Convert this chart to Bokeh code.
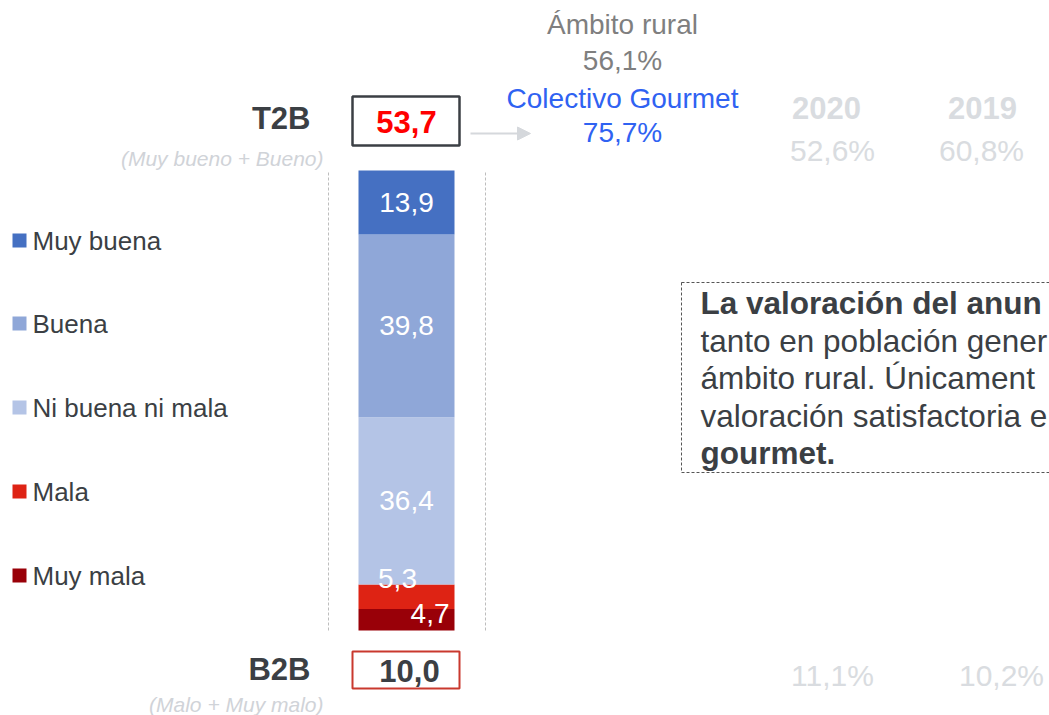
from bokeh.plotting import figure
from bokeh.models import Range1d, Arrow, NormalHead, ColumnDataSource
from bokeh.core.properties import value
from bokeh.embed import file_html
from bokeh.resources import INLINE

# ---------------- data ----------------
categories = ["Muy mala", "Mala", "Ni buena ni mala", "Buena", "Muy buena"]
values = [4.7, 5.3, 36.4, 39.8, 13.9]
labels = ["4,7", "5,3", "36,4", "39,8", "13,9"]
colors = ["#990008", "#DE2314", "#B4C4E6", "#8FA7D8", "#4570C2"]
legend_order = ["Muy buena", "Buena", "Ni buena ni mala", "Mala", "Muy mala"]
t2b_value = "53,7"
b2b_value = "10,0"
rural_label, rural_value = "Ámbito rural", "56,1%"
gourmet_label, gourmet_value = "Colectivo Gourmet", "75,7%"
years = ["2020", "2019"]
years_t2b = ["52,6%", "60,8%"]
years_b2b = ["11,1%", "10,2%"]
note_lines = ["La valoración del anun", "tanto en población gener",
              "ámbito rural. Únicament", "valoración satisfactoria e", "gourmet."]
note_bold = [True, False, False, False, True]

FONT = "Liberation Sans"
DARK = "#3B3F44"

W, H = 1049, 715
TOTAL = sum(values)
K = 460 / TOTAL           # pixels per percentage point
BASE = 630                # picture y of bar bottom


def Y(sy):
    return (BASE - sy) / K


p = figure(width=W, height=H, output_backend="svg", toolbar_location=None,
           x_range=Range1d(0, W), y_range=Range1d(Y(H), Y(0)),
           min_border=0, outline_line_color=None, background_fill_color="white")
p.axis.visible = False
p.grid.visible = False

# stacked bar
bottoms, tops = [], []
acc = 0.0
for v in values:
    bottoms.append(acc)
    acc += v
    tops.append(acc)
src = ColumnDataSource(dict(x=[406] * len(values), bottom=bottoms, top=tops, color=colors,
                            lab=labels, mid=[(b + t) / 2 for b, t in zip(bottoms, tops)]))
p.vbar(x="x", width=96, bottom="bottom", top="top", fill_color="color", line_color=None, source=src)

# bar labels
big = dict(x=[406, 406, 406], y=[src.data["mid"][i] for i in (2, 3, 4)],
           t=[labels[i] for i in (2, 3, 4)])
p.text(x="x", y="y", text="t", source=ColumnDataSource(big), text_align="center",
       text_baseline="middle", text_color="white", text_font=value(FONT), text_font_size="28px")
p.text(x=[397], y=[tops[1] + 1.3], text=[labels[1]], text_align="center",
       text_baseline="middle", text_color="white", text_font=value(FONT), text_font_size="28px")
p.text(x=[449], y=[bottoms[0] + values[0] * 0.8], text=[labels[0]], text_align="right",
       text_baseline="middle", text_color="white", text_font=value(FONT), text_font_size="28px")

# dashed guides
for gx in (328, 485):
    p.segment(x0=[gx], x1=[gx], y0=[0], y1=[TOTAL], line_color="#BDBDBD", line_width=1, line_dash="3 2")

# legend
ly = [240, 323, 407, 491, 575]
col_of = dict(zip(categories, colors))
p.scatter(x=[19] * 5, y=[Y(v) for v in ly], marker="square", size=14,
          fill_color=[col_of[c] for c in legend_order], line_color=None)
p.text(x=[32] * 5, y=[Y(v) for v in ly], text=legend_order, text_align="left", text_baseline="middle",
       text_color=DARK, text_font=value(FONT), text_font_size="26px")

# T2B
p.text(x=[310], y=[Y(118)], text=["T2B"], text_align="right", text_baseline="middle",
       text_color=DARK, text_font=value(FONT), text_font_size="31px", text_font_style="bold")
p.text(x=[323], y=[Y(158)], text=["(Muy bueno + Bueno)"], text_align="right", text_baseline="middle",
       text_color="#D0D3D8", text_font=value(FONT), text_font_size="21px", text_font_style="italic")
p.quad(left=[352], right=[459], top=[Y(96)], bottom=[Y(145)], fill_color="white",
       line_color=DARK, line_width=2.5)
p.text(x=[406], y=[Y(121)], text=[t2b_value], text_align="center", text_baseline="middle",
       text_color="#FF0000", text_font=value(FONT), text_font_size="31px", text_font_style="bold")

# B2B
p.text(x=[310], y=[Y(669)], text=["B2B"], text_align="right", text_baseline="middle",
       text_color=DARK, text_font=value(FONT), text_font_size="31px", text_font_style="bold")
p.text(x=[323], y=[Y(704)], text=["(Malo + Muy malo)"], text_align="right", text_baseline="middle",
       text_color="#D0D3D8", text_font=value(FONT), text_font_size="21px", text_font_style="italic")
p.quad(left=[352], right=[459], top=[Y(651)], bottom=[Y(688)], fill_color="white",
       line_color="#C9392E", line_width=2)
p.text(x=[409], y=[Y(670)], text=[b2b_value], text_align="center", text_baseline="middle",
       text_color=DARK, text_font=value(FONT), text_font_size="31px", text_font_style="bold")

# arrow
p.add_layout(Arrow(end=NormalHead(size=13, fill_color="#D5D8DC", line_color="#D5D8DC"),
                   x_start=470, y_start=Y(133), x_end=530, y_end=Y(133),
                   line_color="#D5D8DC", line_width=2))

# comparison texts
p.text(x=[622, 622], y=[Y(24), Y(60)], text=[rural_label, rural_value], text_align="center",
       text_baseline="middle", text_color="#7F7F7F", text_font=value(FONT), text_font_size="28px")
p.text(x=[622, 622], y=[Y(98), Y(132)], text=[gourmet_label, gourmet_value], text_align="center",
       text_baseline="middle", text_color="#2F62F2", text_font=value(FONT), text_font_size="28px")

yx = [826, 982]
p.text(x=yx, y=[Y(107)] * 2, text=years, text_align="center", text_baseline="middle",
       text_color="#D9DCE0", text_font=value(FONT), text_font_size="31px", text_font_style="bold")
p.text(x=[832, 981], y=[Y(150)] * 2, text=years_t2b, text_align="center", text_baseline="middle",
       text_color="#D9DCE0", text_font=value(FONT), text_font_size="30px")
p.text(x=[832, 1001], y=[Y(675)] * 2, text=years_b2b, text_align="center", text_baseline="middle",
       text_color="#D9DCE0", text_font=value(FONT), text_font_size="30px")

# note box
p.quad(left=[681], right=[1100], top=[Y(282)], bottom=[Y(472)], fill_color=None,
       line_color="#555555", line_width=1, line_dash="3 2")
ny = [302, 340, 377, 415, 452]
for txt, bold, yy in zip(note_lines, note_bold, ny):
    p.text(x=[700], y=[Y(yy)], text=[txt], text_align="left", text_baseline="middle",
           text_color=DARK, text_font=value(FONT), text_font_size="31.5px",
           text_font_style="bold" if bold else "normal")

open("out.html", "w").write(file_html(p, INLINE))
